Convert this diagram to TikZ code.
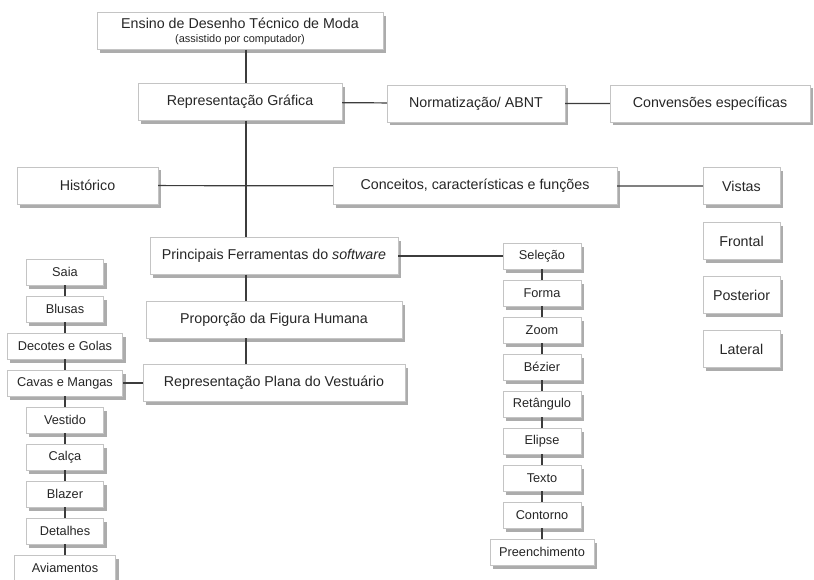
\documentclass[tikz,border=0pt]{standalone}
\usepackage{fontspec}
\setmainfont{Liberation Sans}
\usetikzlibrary{shadows}
\definecolor{boxline}{HTML}{C4C4C4}
\definecolor{linkline}{HTML}{3C3C3C}
\tikzstyle{bigbox} = [draw=boxline,fill=white,rectangle,text=black!85,font=\fontsize{14.3}{16}\selectfont,minimum height=37bp,inner sep=0pt,drop shadow={shadow xshift=3bp,shadow yshift=-3.5bp,opacity=0.5,fill=black!65}]
\tikzstyle{smallbox} = [bigbox,font=\fontsize{12.8}{14}\selectfont,minimum height=26bp]
\tikzstyle{link} = [draw=linkline,line width=1.2bp]

\begin{document}
\begin{tikzpicture}[x=1bp,y=-1bp]
			\useasboundingbox (0,0) rectangle (814,580);
			\coordinate (trunk) at (246,0);
			
			\node[bigbox,minimum width=286bp,align=center] (ensino) at (240,31) {Ensino de Desenho Técnico de Moda\\[-2bp]{\fontsize{11}{12}\selectfont (assistido por computador)}};
			\node[bigbox,minimum width=204bp] (grafica) at (240,102) {Representação Gráfica};
			\node[bigbox,minimum width=178bp] (abnt) at (476,103.5) {Normatização/ ABNT};
			\node[bigbox,minimum width=200bp] (convencoes) at (710,103.5) {Convensões específicas};
			
			\node[bigbox,minimum width=141bp] (historico) at (87.5,185.5) {Histórico};
			\node[bigbox,minimum width=284bp] (conceitos) at (475,186) {Conceitos, características e funções};
			\node[bigbox,minimum width=77bp] (vistas) at (741.5,186) {Vistas};
			\node[bigbox,minimum width=77bp] (frontal) at (741.5,241) {Frontal};
			\node[bigbox,minimum width=77bp] (posterior) at (741.5,295) {Posterior};
			\node[bigbox,minimum width=77bp] (lateral) at (741.5,349) {Lateral};
			
			\node[bigbox,minimum width=248bp] (ferramentas) at (274,256) {Principais Ferramentas do \textit{software}};
			\node[bigbox,minimum width=256bp] (proporcao) at (274,319.5) {Proporção da Figura Humana};
			\node[bigbox,minimum width=262bp] (plana) at (274,383) {Representação Plana do Vestuário};
			
			% pecas do vestuario
			\foreach \name/\txt/\w [count=\i from 0] in {saia/Saia/77, blusas/Blusas/77, decotes/Decotes e Golas/115, cavas/Cavas e Mangas/115, vestido/Vestido/77, calca/Calça/77, blazer/Blazer/77, detalhes/Detalhes/77, aviamentos/Aviamentos/101}
				\node[smallbox,minimum width=\w bp] (\name) at (65,272+37*\i) {\txt};
			
			% ferramentas do software
			\foreach \name/\txt/\w [count=\i from 0] in {selecao/Seleção/78, forma/Forma/78, zoom/Zoom/78, bezier/Bézier/78, retangulo/Retângulo/78, elipse/Elipse/78, texto/Texto/78, contorno/Contorno/78, preenchimento/Preenchimento/104}
				\node[smallbox,minimum width=\w bp] (\name) at (542,256+37*\i) {\txt};
			
			\draw[link] (ensino.south -| trunk) -- (grafica.north -| trunk);
			\draw[link] (grafica.south -| trunk) -- (ferramentas.north -| trunk);
			\draw[link] (ferramentas.south -| trunk) -- (proporcao.north -| trunk);
			\draw[link] (proporcao.south -| trunk) -- (plana.north -| trunk);
			\draw[link] (grafica) -- (abnt) -- (convencoes);
			\draw[link] (historico) -- (conceitos) -- (vistas);
			\draw[link] (ferramentas) -- (selecao);
			\draw[link] (plana) -- (cavas);
			\draw[link] (saia) -- (blusas) -- (decotes) -- (cavas) -- (vestido) -- (calca) -- (blazer) -- (detalhes) -- (aviamentos);
			\draw[link] (selecao) -- (forma) -- (zoom) -- (bezier) -- (retangulo) -- (elipse) -- (texto) -- (contorno) -- (preenchimento);
		\end{tikzpicture}
\end{document}
